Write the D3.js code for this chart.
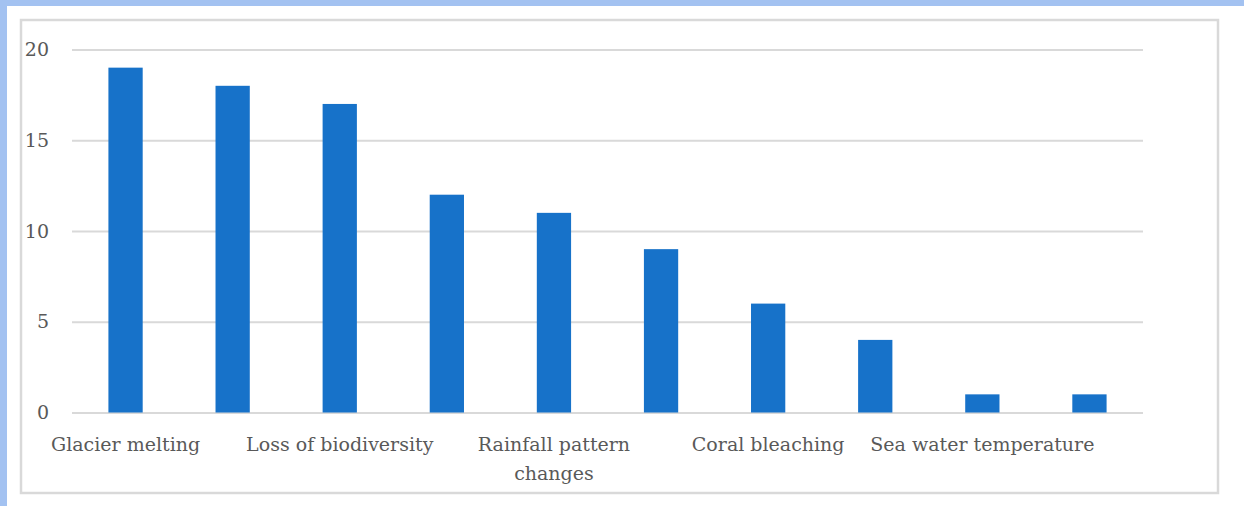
<!DOCTYPE html>
<html>
<head>
<meta charset="utf-8">
<script src="https://cdn.jsdelivr.net/npm/d3@7/dist/d3.min.js"></script>
<style>
  html, body { margin: 0; padding: 0; background: #ffffff; }
  svg { display: block; }
</style>
</head>
<body>
<svg id="chart" width="1244" height="506"></svg>
<script>
// Observed climate-change impacts (count of mentions)
const categories = [
  "Glacier melting", "", "Loss of biodiversity", "", "Rainfall pattern changes",
  "", "Coral bleaching", "", "Sea water temperature", ""
];
const values = [19, 18, 17, 12, 11, 9, 6, 4, 1, 1];
const yTicks = [0, 5, 10, 15, 20];

const W = 1244, H = 506;
const plot = { left: 72, right: 1143, top: 49.5, bottom: 412.5 };
const textColor = "#595959";
const gridColor = "#d9d9d9";
const barColor = "#1772c9";
const fontFamily = "'DejaVu Serif', serif";

const svg = d3.select("#chart");

// page frame: blue strips along the top and left edges
svg.append("rect").attr("x", 0).attr("y", 0).attr("width", W).attr("height", 6).attr("fill", "#a3c2f1");
svg.append("rect").attr("x", 0).attr("y", 0).attr("width", 7).attr("height", H).attr("fill", "#a3c2f1");

// chart area border
svg.append("rect")
  .attr("x", 21).attr("y", 20).attr("width", 1197).attr("height", 473)
  .attr("fill", "#ffffff").attr("stroke", gridColor).attr("stroke-width", 2.5);

const x = d3.scaleBand()
  .domain(d3.range(categories.length))
  .range([plot.left, plot.right])
  .paddingInner(0.68)
  .paddingOuter(0.34);

const y = d3.scaleLinear().domain([0, 20]).range([plot.bottom, plot.top]);

// horizontal gridlines + y labels
const yAxis = d3.axisLeft(y).tickValues(yTicks).tickSize(-(plot.right - plot.left)).tickPadding(23);
const gy = svg.append("g").attr("transform", `translate(${plot.left},0)`).call(yAxis);
gy.select(".domain").remove();
gy.selectAll(".tick line").attr("stroke", gridColor).attr("stroke-width", 2);
gy.selectAll(".tick text")
  .attr("fill", textColor)
  .style("font-family", fontFamily)
  .style("font-size", "19px");

// bars
svg.append("g").selectAll("rect")
  .data(values)
  .join("rect")
  .attr("x", (d, i) => x(i))
  .attr("y", d => y(d))
  .attr("width", x.bandwidth())
  .attr("height", d => y(0) - y(d))
  .attr("fill", barColor);

// category labels (every other band, wrapped when too long)
const step = x.step();
const xAxis = d3.axisBottom(x).tickSize(0).tickPadding(0).tickFormat(i => categories[i]);
const gx = svg.append("g").attr("transform", `translate(0,${plot.bottom})`).call(xAxis);
gx.select(".domain").remove();
gx.selectAll(".tick text")
  .attr("fill", textColor)
  .style("font-family", fontFamily)
  .style("font-size", "19px")
  .attr("y", 38)
  .attr("dy", 0)
  .each(function (i) {
    const label = categories[i];
    if (!label) return;
    const t = d3.select(this);
    const maxW = 230;
    t.text(label);
    if (this.getComputedTextLength() <= maxW) return;
    const words = label.split(" ");
    t.text(null);
    let line = [];
    let lineNo = 0;
    let tspan = t.append("tspan").attr("x", 0).attr("y", 38);
    for (const w of words) {
      line.push(w);
      tspan.text(line.join(" "));
      if (tspan.node().getComputedTextLength() > 160 && line.length > 1) {
        line.pop();
        tspan.text(line.join(" "));
        line = [w];
        lineNo++;
        tspan = t.append("tspan").attr("x", 0).attr("y", 38 + lineNo * 29).text(w);
      }
    }
  });
</script>
</body>
</html>
